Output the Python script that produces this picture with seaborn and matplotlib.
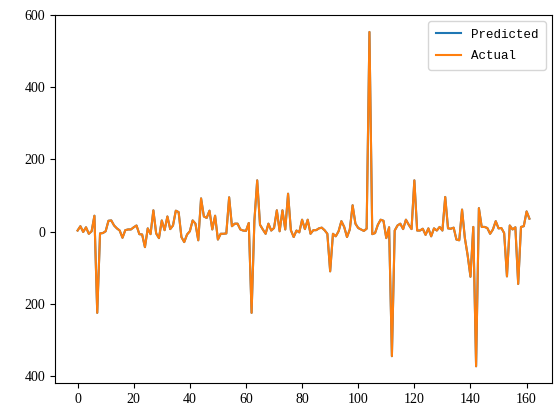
import numpy as np
import pandas as pd
import matplotlib
matplotlib.use("Agg")
import matplotlib.pyplot as plt
import matplotlib.ticker as mticker
import seaborn as sns

# values (index 0..161)
actual = [3, 15, -1, 12, -6, 1, 44, -225, -5, -4,
          1, 30, 31, 17, 9, 3, -17, 4, 6, 6,
          12, 17, -7, -8, -43, 9, -7, 59, -5, -18,
          31, 4, 42, 7, 17, 58, 54, -15, -29, -8,
          1, 31, 22, -24, 92, 42, 38, 58, 6, 44,
          -22, -6, -6, -5, 95, 15, 22, 22, 6, 3,
          2, 24, -225, 30, 142, 19, 6, -6, 22, 3,
          10, 59, 1, 59, 6, 105, 4, -15, 3, -2,
          33, 7, 33, -6, 4, 4, 9, 11, 4, -6,
          -110, -6, -13, 1, 29, 13, -15, 6, 73, 22,
          10, 6, 2, 8, 553, -7, -4, 19, 33, 30,
          -18, 12, -345, 3, 17, 22, 7, 33, 19, 7,
          142, 3, 3, 8, -9, 9, -13, 9, 3, 13,
          3, 96, 9, 8, 11, -22, -24, 61, -18, -66,
          -125, 13, -373, 65, 13, 13, 10, -6, 6, 29,
          9, 10, -4, -124, 17, 6, 12, -145, 13, 15,
          56, 36]
predicted = list(actual)  # predicted line is fully covered by actual

df = pd.DataFrame({
    "idx": np.arange(len(actual)),
    "Predicted": predicted,
    "Actual": actual,
})

plt.rcParams["font.family"] = ["Liberation Serif", "DejaVu Sans"]
plt.rcParams["font.size"] = 10

fig = plt.figure(figsize=(5.6, 4.16), dpi=100)
ax = fig.add_axes([55 / 560, 33 / 416, 497 / 560, 368 / 416])

sns.lineplot(data=df, x="idx", y="Predicted", ax=ax, label="Predicted",
             color="tab:blue")
sns.lineplot(data=df, x="idx", y="Actual", ax=ax, label="Actual",
             color="tab:orange")

ax.set_xlabel("")
ax.set_ylabel("")
ax.set_xticks(range(0, 161, 20))
ax.set_yticks(range(-400, 601, 200))
# the reference renders negative labels without a minus sign
ax.yaxis.set_major_formatter(mticker.FuncFormatter(lambda v, p: f"{abs(v):.0f}"))
ax.legend(loc="upper right", prop={"family": "Liberation Mono", "size": 9},
          borderpad=0.6, labelspacing=0.75)

fig.savefig("out.png", dpi=100)
